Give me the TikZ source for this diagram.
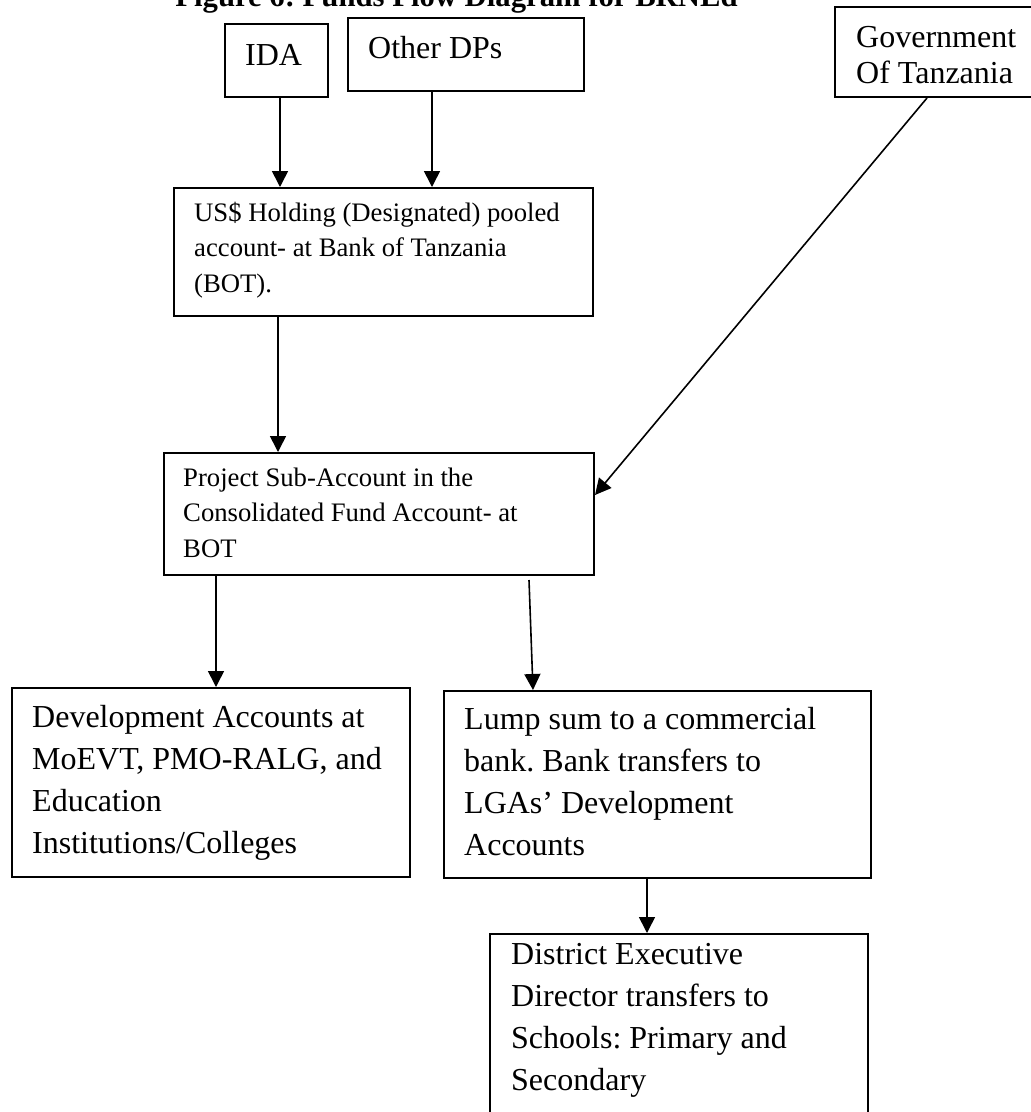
\documentclass[tikz,border=0pt]{standalone}
\usepackage{fontspec}
\setmainfont{Liberation Serif}
\usetikzlibrary{arrows.meta}
\frenchspacing
\begin{document}
\begin{tikzpicture}[x=1pt,y=-1pt,
  box/.style={draw, line width=2pt, rectangle, inner sep=0pt, anchor=north west},
  txt/.style={anchor=base west, align=left, inner sep=0pt},
  big/.style={font=\fontsize{32}{41.7}\selectfont},
  mid/.style={font=\fontsize{26.7}{35.3}\selectfont},
  arr/.style={line width=1.6pt, -{Triangle[length=16pt,width=16pt]}},
]
\useasboundingbox (0,0) rectangle (1031,1112);
\clip (0,0) rectangle (1031,1112);

% title (top partly cut off, as in the reference)
\node[font=\bfseries\fontsize{30.7}{36}\selectfont, anchor=base, inner sep=0pt] (title) at (456.5,6) {Figure 6: Funds Flow Diagram for BRNEd};

% boxes
\node[box, minimum width=103pt, minimum height=73pt] (ida) at (224,23) {};
\node[box, minimum width=236pt, minimum height=73pt] (oth) at (347,17) {};
\node[box, minimum width=206pt, minimum height=90pt] (gov) at (834,6) {};
\node[box, minimum width=419pt, minimum height=128pt] (us) at (173,187) {};
\node[box, minimum width=430pt, minimum height=122pt] (proj) at (163,452) {};
\node[box, minimum width=398pt, minimum height=189pt] (dev) at (11,687) {};
\node[box, minimum width=427pt, minimum height=187pt] (lump) at (443,690) {};
\node[box, minimum width=378pt, minimum height=200pt] (dist) at (489,933) {};

% texts (base anchor = baseline of the last line)
\node[txt, font=\fontsize{32}{36}\selectfont] (idaT) at (245,65) {IDA};
\node[txt, font=\fontsize{32}{36}\selectfont] (othT) at (368,58) {Other DPs};
\node[txt, font=\fontsize{32}{36}\selectfont] (govT) at (856,83) {Government\\Of Tanzania};
\node[txt, mid] (usT) at (194,292) {US\$ Holding (Designated) pooled\\account- at Bank of Tanzania\\(BOT).};
\node[txt, mid] (projT) at (183,557) {Project Sub-Account in the\\Consolidated Fund Account- at\\BOT};
\node[txt, big] (devT) at (32,853) {Development Accounts at\\MoEVT, PMO-RALG, and\\Education\\Institutions/Colleges};
\node[txt, big] (lumpT) at (464,855) {Lump sum to a commercial\\bank. Bank transfers to\\LGAs’ Development\\Accounts};
\node[txt, big] (distT) at (511,1090) {District Executive\\Director transfers to\\Schools: Primary and\\Secondary};

% connectors
\draw[arr] ([xshift=56pt]ida.south west) -- ([xshift=107pt]us.north west);
\draw[arr] ([xshift=85pt]oth.south west) -- ([xshift=259pt]us.north west);
\draw[arr] ([xshift=105pt]us.south west) -- ([xshift=115pt]proj.north west);
\draw[arr] ([xshift=93pt]gov.south west) -- ([yshift=-43pt]proj.north east);
\draw[arr] ([xshift=53pt]proj.south west) -- ([xshift=205pt]dev.north west);
\draw[arr] ([xshift=366pt,yshift=-4pt]proj.south west) -- ([xshift=90pt]lump.north west);
\draw[arr] ([xshift=204pt]lump.south west) -- ([xshift=158pt]dist.north west);
\end{tikzpicture}
\end{document}
